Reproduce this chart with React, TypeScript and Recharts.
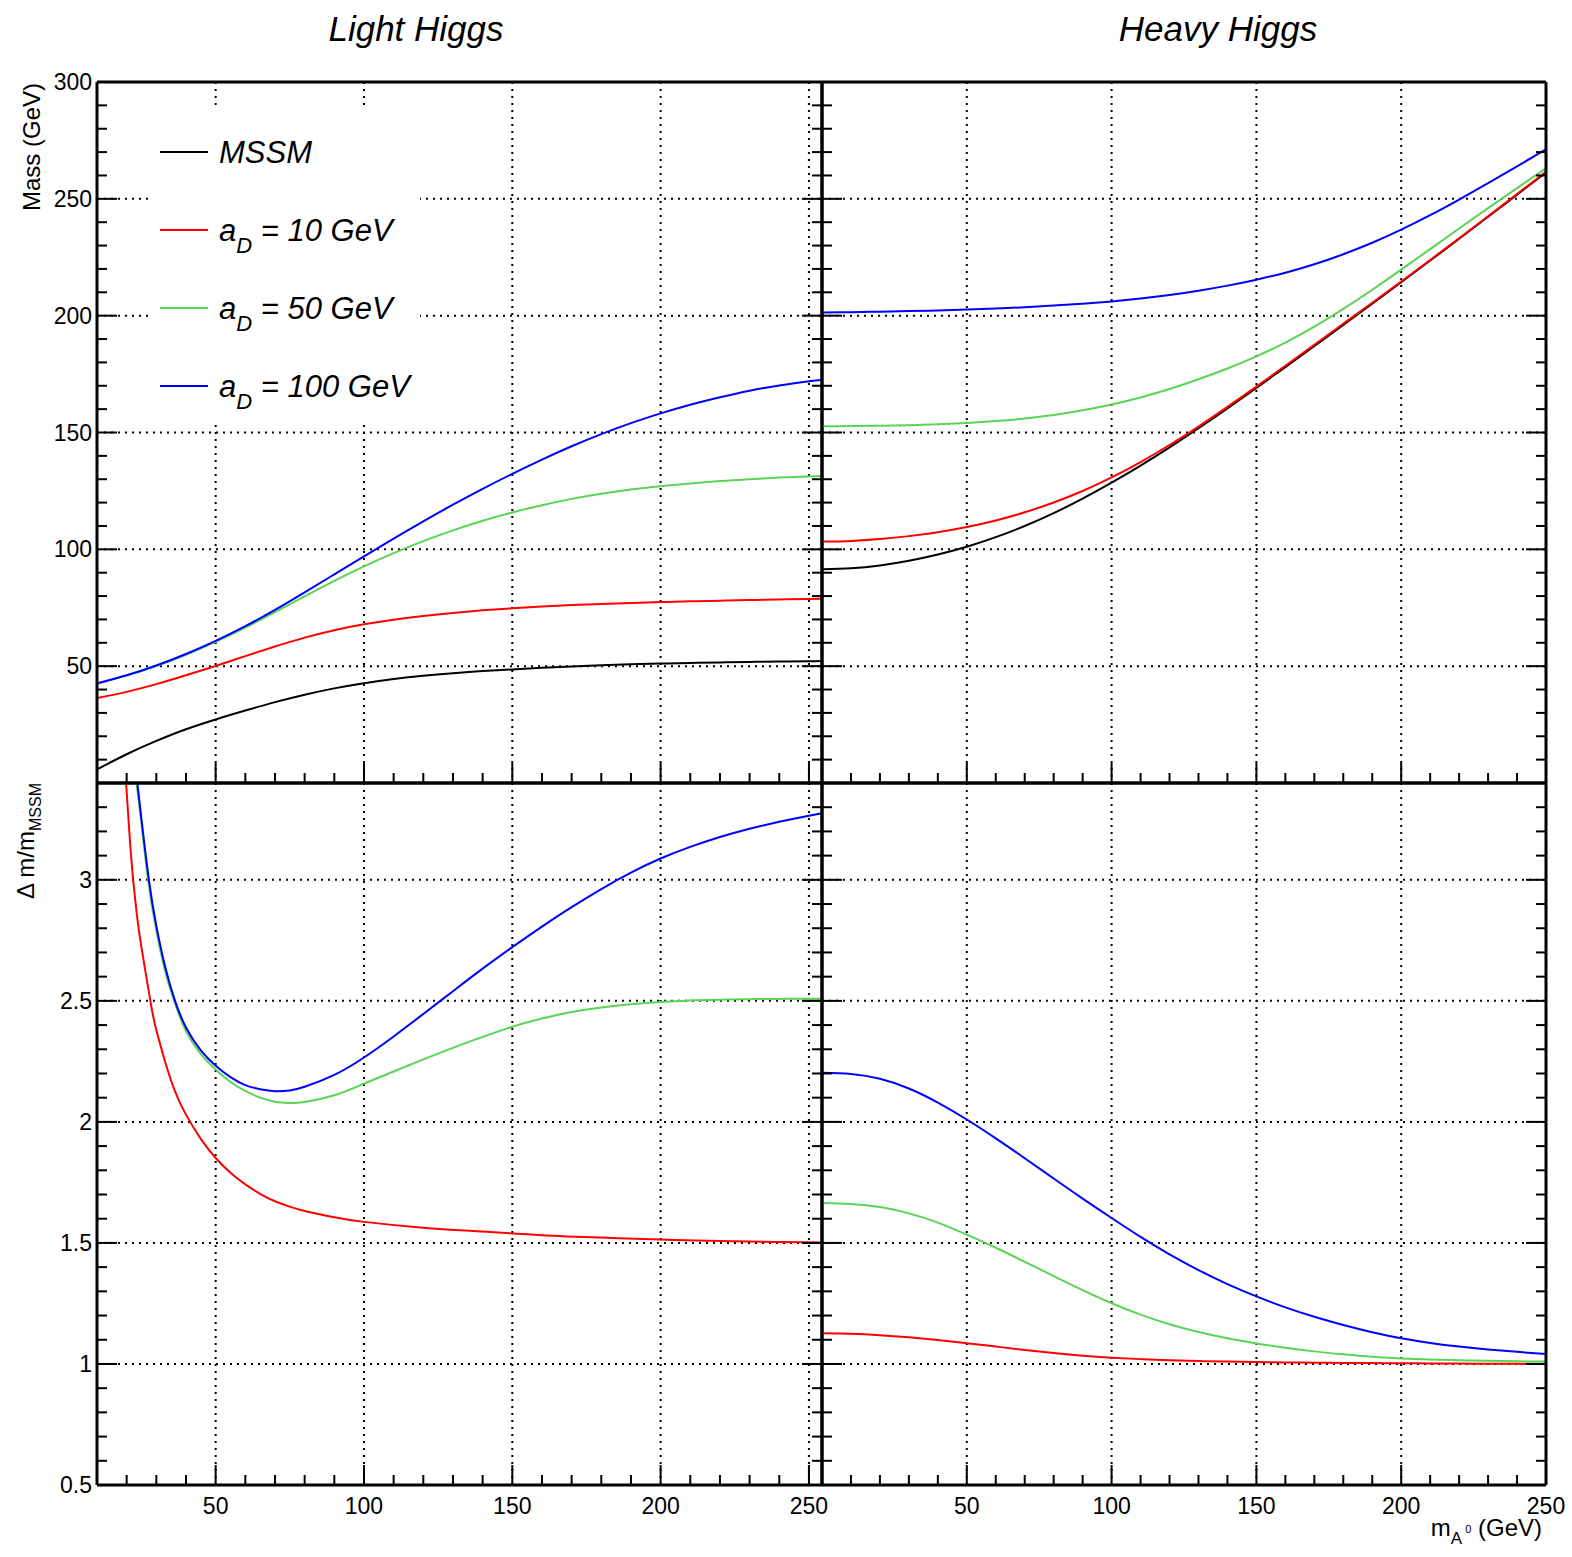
import React from 'react';
import { LineChart, Line, XAxis, YAxis, CartesianGrid, Legend } from 'recharts';

const W = 1572;
const H = 1557;
const FONT = '"Liberation Sans", Arial, Helvetica, sans-serif';

// Light Higgs, mass (GeV) vs mA0
const lightX = [10, 20, 30, 40, 50, 60, 70, 80, 90, 100, 110, 120, 130, 140, 150, 160, 170, 180, 190, 200, 210, 220, 230, 240, 250, 254];
const lightMSSM = [5.8, 12.3, 18, 23, 27.2, 31, 34.6, 37.8, 40.5, 42.7, 44.5, 45.9, 47, 47.9, 48.6, 49.3, 49.9, 50.4, 50.8, 51.1, 51.4, 51.6, 51.8, 52, 52.1, 52.2];
const lightAD10 = [36.4, 39, 42.3, 46.1, 50.1, 54.3, 58.4, 62.2, 65.4, 67.9, 69.9, 71.5, 72.8, 73.9, 74.8, 75.55, 76.15, 76.65, 77.07, 77.43, 77.75, 78.04, 78.31, 78.56, 78.79, 78.88];
const lightAD50 = [42.6, 46, 50.1, 54.9, 60.4, 66.5, 73.1, 79.9, 86.5, 92.7, 98.4, 103.5, 108.1, 112.2, 115.8, 118.9, 121.6, 123.8, 125.6, 127, 128.2, 129.2, 130, 130.7, 131.2, 131.4];
const lightAD100 = [42.6, 46.1, 50.3, 55.2, 60.8, 67.1, 74.1, 81.6, 89.3, 97, 104.6, 112, 119.1, 125.9, 132.3, 138.4, 144.1, 149.3, 154, 158.2, 161.9, 165.1, 167.9, 170.1, 171.9, 172.5];

// Light Higgs, delta m / m_MSSM (curves come in from the top edge)
const ratioLightAD10X = [19.8, 21, 22.2, 23.5, 25, 28, 30, 35, 40, 45, 50, 55, 60, 65, 70, 75, 80, 90, 100, 120, 140, 160, 180, 200, 220, 240, 254];
const ratioLightAD10 = [3.4, 3.18, 3.0, 2.85, 2.72, 2.5, 2.38, 2.17, 2.03, 1.93, 1.851, 1.79, 1.742, 1.703, 1.672, 1.65, 1.632, 1.606, 1.587, 1.563, 1.547, 1.532, 1.522, 1.514, 1.508, 1.504, 1.502];
const ratioLightAD50X = [23.3, 25, 27.2, 30, 33, 36, 40, 45, 50, 55, 60, 65, 70, 75, 80, 90, 100, 110, 120, 130, 140, 150, 160, 170, 180, 190, 200, 210, 220, 230, 240, 250, 254];
const ratioLightAD50 = [3.4, 3.23, 3.0, 2.79, 2.62, 2.5, 2.375, 2.28, 2.216, 2.165, 2.128, 2.1, 2.083, 2.078, 2.082, 2.11, 2.158, 2.208, 2.258, 2.306, 2.351, 2.393, 2.427, 2.454, 2.473, 2.486, 2.495, 2.501, 2.505, 2.507, 2.508, 2.509, 2.509];
const ratioLightAD100X = [23.6, 25, 27.5, 30, 33, 36.3, 40, 45, 50, 55, 60, 65, 70, 75, 80, 90, 100, 110, 120, 130, 140, 150, 160, 170, 180, 190, 200, 210, 220, 230, 240, 250, 254];
const ratioLightAD100 = [3.4, 3.25, 3.0, 2.81, 2.64, 2.5, 2.39, 2.295, 2.232, 2.185, 2.152, 2.135, 2.127, 2.13, 2.145, 2.194, 2.266, 2.353, 2.446, 2.54, 2.633, 2.722, 2.807, 2.887, 2.962, 3.03, 3.088, 3.136, 3.177, 3.211, 3.24, 3.265, 3.274];

// Heavy Higgs
const heavyX = [0, 10, 20, 30, 40, 50, 60, 70, 80, 90, 100, 110, 120, 130, 140, 150, 160, 170, 180, 190, 200, 210, 220, 230, 240, 250];
const heavyMSSM = [91.5, 91.9, 93.1, 95.1, 97.8, 101.1, 105.2, 110, 115.5, 121.7, 128.5, 135.8, 143.6, 151.8, 160.3, 169.1, 178, 187, 196, 205.1, 214.3, 223.6, 232.9, 242.3, 251.8, 261.3];
const heavyAD10 = [103.3, 103.6, 104.4, 105.65, 107.35, 109.55, 112.35, 115.85, 120.05, 124.95, 130.75, 137.35, 144.65, 152.55, 160.95, 169.65, 178.55, 187.55, 196.55, 205.55, 214.65, 223.85, 233.15, 242.55, 252.05, 261.65];
const heavyAD50 = [152.7, 152.75, 152.9, 153.15, 153.55, 154.1, 154.9, 156, 157.5, 159.5, 162, 165, 168.6, 172.8, 177.4, 182.6, 188.5, 195.3, 202.9, 211.1, 219.7, 228.5, 237.3, 246, 254.6, 263.1];
const heavyAD100 = [201.4, 201.5, 201.7, 201.95, 202.25, 202.6, 203.05, 203.6, 204.3, 205.15, 206.1, 207.3, 208.8, 210.65, 212.85, 215.4, 218.4, 222, 226.3, 231.2, 236.8, 243, 249.7, 256.7, 263.9, 271.2];
const ratioHeavyAD10 = [1.127, 1.125, 1.119, 1.11, 1.099, 1.086, 1.072, 1.058, 1.045, 1.034, 1.026, 1.02, 1.015, 1.012, 1.01, 1.008, 1.0065, 1.0055, 1.0045, 1.0035, 1.003, 1.002, 1.0015, 1.001, 1.0005, 1.0];
const ratioHeavyAD50 = [1.665, 1.661, 1.648, 1.622, 1.584, 1.534, 1.48, 1.422, 1.363, 1.305, 1.251, 1.204, 1.164, 1.132, 1.106, 1.085, 1.067, 1.052, 1.04, 1.03, 1.023, 1.018, 1.015, 1.013, 1.011, 1.01];
const ratioHeavyAD100 = [2.203, 2.198, 2.178, 2.138, 2.08, 2.01, 1.932, 1.85, 1.766, 1.683, 1.603, 1.525, 1.453, 1.388, 1.33, 1.279, 1.234, 1.195, 1.161, 1.131, 1.106, 1.087, 1.072, 1.06, 1.05, 1.041];

// tick labels
const xMajor = [50, 100, 150, 200, 250];
const massMajor = [50, 100, 150, 200, 250, 300];
const ratioMajor = [0.5, 1, 1.5, 2, 2.5, 3];

const RED = '#ff0000';
const GREEN = '#59d454';
const BLUE = '#0000ff';

const range = (from: number, to: number, step: number) => {
  const out: number[] = [];
  for (let v = from; v <= to + step / 1000; v += step) out.push(Math.round(v * 1000) / 1000);
  return out;
};

type Pt = { x: number; y: number };
const zip = (xs: number[], ys: number[]): Pt[] => xs.map((x, i) => ({ x, y: ys[i] }));
const isIn = (list: number[], v: number) => list.some((m) => Math.abs(m - v) < 1e-6);

const MAJ = 20;
const MIN = 10;
const AX = 30; // space reserved by every axis

const bottomTick = (major: number[], labels: boolean) => (p: any) => {
  const v = p.payload.value;
  const big = isIn(major, v);
  return (
    <g>
      <line x1={p.x} x2={p.x} y1={p.y} y2={p.y - (big ? MAJ : MIN)} stroke="#000" strokeWidth={2} />
      {labels && big ? (
        <text x={p.x} y={p.y + 29} textAnchor="middle" fontSize={23} fill="#000" fontFamily={FONT}>{v}</text>
      ) : null}
    </g>
  );
};
const topTick = (major: number[]) => (p: any) => {
  const big = isIn(major, p.payload.value);
  return <line x1={p.x} x2={p.x} y1={p.y} y2={p.y + (big ? MAJ : MIN)} stroke="#000" strokeWidth={2} />;
};
const leftTick = (major: number[], labels: boolean) => (p: any) => {
  const v = p.payload.value;
  const big = isIn(major, v);
  return (
    <g>
      <line x1={p.x} x2={p.x + (big ? MAJ : MIN)} y1={p.y} y2={p.y} stroke="#000" strokeWidth={2} />
      {labels && big ? (
        <text x={p.x - 5} y={p.y + 8} textAnchor="end" fontSize={23} fill="#000" fontFamily={FONT}>{v}</text>
      ) : null}
    </g>
  );
};
const rightTick = (major: number[]) => (p: any) => {
  const big = isIn(major, p.payload.value);
  return <line x1={p.x} x2={p.x - (big ? MAJ : MIN)} y1={p.y} y2={p.y} stroke="#000" strokeWidth={2} />;
};

type Series = { name: string; color: string; points: Pt[] };

const axisLine = { stroke: '#000', strokeWidth: 3 };

type PanelProps = {
  fx: [number, number];
  fy: [number, number];
  xDomain: [number, number];
  yDomain: [number, number];
  xTicks: number[];
  yTicks: number[];
  yMajor: number[];
  xLabels: boolean;
  yLabels: boolean;
  series: Series[];
  yTitle?: any;
  xTitle?: any;
  legend?: boolean;
};

const legendRows = [
  { color: '#000', main: 'MSSM', sub: '', rest: '' },
  { color: RED, main: 'a', sub: 'D', rest: ' = 10 GeV' },
  { color: GREEN, main: 'a', sub: 'D', rest: ' = 50 GeV' },
  { color: BLUE, main: 'a', sub: 'D', rest: ' = 100 GeV' },
];

const LegendBox = () => (
  <svg width={272} height={315} style={{ display: 'block' }}>
    {legendRows.map((r, i) => {
      const cy = 42 + i * 78;
      return (
        <g key={i}>
          <line x1={12} x2={60} y1={cy} y2={cy} stroke={r.color} strokeWidth={2} />
          <text x={71} y={cy + 11} fontSize={31} fontStyle="italic" fontFamily={FONT} fill="#000" style={{ whiteSpace: 'pre' }}>
            {r.main}
            {r.sub ? <tspan dy={12} fontSize={22}>{r.sub}</tspan> : null}
            {r.rest ? <tspan dy={-12} fontSize={31}>{r.rest}</tspan> : null}
          </text>
        </g>
      );
    })}
  </svg>
);

function Panel(p: PanelProps) {
  const margin = { left: p.fx[0] - AX, right: W - p.fx[1] - AX, top: p.fy[0] - AX, bottom: H - p.fy[1] - AX };
  const common = { type: 'number' as const, allowDataOverflow: true, interval: 0 as const, tickSize: 0, tickMargin: 0, tickLine: false, axisLine };
  return (
    <div style={{ position: 'absolute', left: 0, top: 0 }}>
      <LineChart width={W} height={H} margin={margin}>
        <CartesianGrid stroke="#000" strokeWidth={2} strokeDasharray="2 5" verticalValues={xMajor} horizontalValues={p.yMajor} />
        <XAxis {...common} dataKey="x" domain={p.xDomain} ticks={p.xTicks} height={AX} tick={bottomTick(xMajor, p.xLabels)} label={p.xTitle} />
        <XAxis {...common} xAxisId="top" orientation="top" domain={p.xDomain} ticks={p.xTicks} height={AX} tick={topTick(xMajor)} />
        <YAxis {...common} domain={p.yDomain} ticks={p.yTicks} width={AX} tick={leftTick(p.yMajor, p.yLabels)} label={p.yTitle} />
        <YAxis {...common} yAxisId="right" orientation="right" domain={p.yDomain} ticks={p.yTicks} width={AX} tick={rightTick(p.yMajor)} />
        {p.series.map((s) => (
          <Line key={s.name} name={s.name} data={s.points} dataKey="y" type="natural" stroke={s.color} strokeWidth={2} dot={false} isAnimationActive={false} />
        ))}
        {p.legend ? (
          <Legend
            layout="vertical"
            align="center"
            verticalAlign="middle"
            wrapperStyle={{ left: 148, top: 110, width: 272, height: 315, background: '#fff' }}
            content={() => <LegendBox />}
          />
        ) : null}
      </LineChart>
    </div>
  );
}

const massTitle = () => (
  <text transform="rotate(-90)" x={-83} y={40} textAnchor="end" fontSize={24} fontFamily={FONT} fill="#000">
    Mass (GeV)
  </text>
);
const ratioTitle = () => (
  <text transform="rotate(-90)" x={-783} y={34} textAnchor="end" fontSize={24} fontFamily={FONT} fill="#000">
    Δ m/m<tspan dy={7} fontSize={16}>MSSM</tspan>
  </text>
);
const xTitle = () => (
  <text x={1542} y={1536} textAnchor="end" fontSize={24} fontFamily={FONT} fill="#000" style={{ whiteSpace: 'pre' }}>
    m<tspan dy={8} fontSize={17}>A</tspan>
    <tspan dy={-11} fontSize={11}> 0</tspan>
    <tspan dy={3} fontSize={24}> (GeV)</tspan>
  </text>
);

const LEFT: [number, number] = [97, 822];
const RIGHT: [number, number] = [822, 1546];
const TOP: [number, number] = [82, 783];
const BOTTOM: [number, number] = [783, 1485];

export default function App() {
  const lightMass: Series[] = [
    { name: 'MSSM', color: '#000', points: zip(lightX, lightMSSM) },
    { name: 'aD10', color: RED, points: zip(lightX, lightAD10) },
    { name: 'aD50', color: GREEN, points: zip(lightX, lightAD50) },
    { name: 'aD100', color: BLUE, points: zip(lightX, lightAD100) },
  ];
  const lightRatio: Series[] = [
    { name: 'aD10', color: RED, points: zip(ratioLightAD10X, ratioLightAD10) },
    { name: 'aD50', color: GREEN, points: zip(ratioLightAD50X, ratioLightAD50) },
    { name: 'aD100', color: BLUE, points: zip(ratioLightAD100X, ratioLightAD100) },
  ];
  const heavyMass: Series[] = [
    { name: 'MSSM', color: '#000', points: zip(heavyX, heavyMSSM) },
    { name: 'aD10', color: RED, points: zip(heavyX, heavyAD10) },
    { name: 'aD50', color: GREEN, points: zip(heavyX, heavyAD50) },
    { name: 'aD100', color: BLUE, points: zip(heavyX, heavyAD100) },
  ];
  const heavyRatio: Series[] = [
    { name: 'aD10', color: RED, points: zip(heavyX, ratioHeavyAD10) },
    { name: 'aD50', color: GREEN, points: zip(heavyX, ratioHeavyAD50) },
    { name: 'aD100', color: BLUE, points: zip(heavyX, ratioHeavyAD100) },
  ];
  const lightTicks = range(20, 250, 10);
  const heavyTicks = range(10, 250, 10);
  const massTicks = range(10, 300, 10);
  const ratioTicks = range(0.5, 3.4, 0.1);

  return (
    <div style={{ position: 'absolute', left: 0, top: 0, width: W, height: H, background: '#fff', overflow: 'hidden', fontFamily: FONT }}>
      <svg width={W} height={70} style={{ position: 'absolute', left: 0, top: 0 }}>
        <text x={416} y={41} textAnchor="middle" fontSize={35} fontStyle="italic" fontFamily={FONT}>Light Higgs</text>
        <text x={1218} y={41} textAnchor="middle" fontSize={35} fontStyle="italic" fontFamily={FONT}>Heavy Higgs</text>
      </svg>
      <Panel fx={LEFT} fy={TOP} xDomain={[10, 254.4]} yDomain={[0, 300]} xTicks={lightTicks} yTicks={massTicks} yMajor={massMajor} xLabels={false} yLabels series={lightMass} yTitle={massTitle} legend />
      <Panel fx={RIGHT} fy={TOP} xDomain={[0, 250]} yDomain={[0, 300]} xTicks={heavyTicks} yTicks={massTicks} yMajor={massMajor} xLabels={false} yLabels={false} series={heavyMass} />
      <Panel fx={LEFT} fy={BOTTOM} xDomain={[10, 254.4]} yDomain={[0.5, 3.4]} xTicks={lightTicks} yTicks={ratioTicks} yMajor={ratioMajor} xLabels yLabels series={lightRatio} yTitle={ratioTitle} />
      <Panel fx={RIGHT} fy={BOTTOM} xDomain={[0, 250]} yDomain={[0.5, 3.4]} xTicks={heavyTicks} yTicks={ratioTicks} yMajor={ratioMajor} xLabels yLabels={false} series={heavyRatio} xTitle={xTitle} />
    </div>
  );
}
